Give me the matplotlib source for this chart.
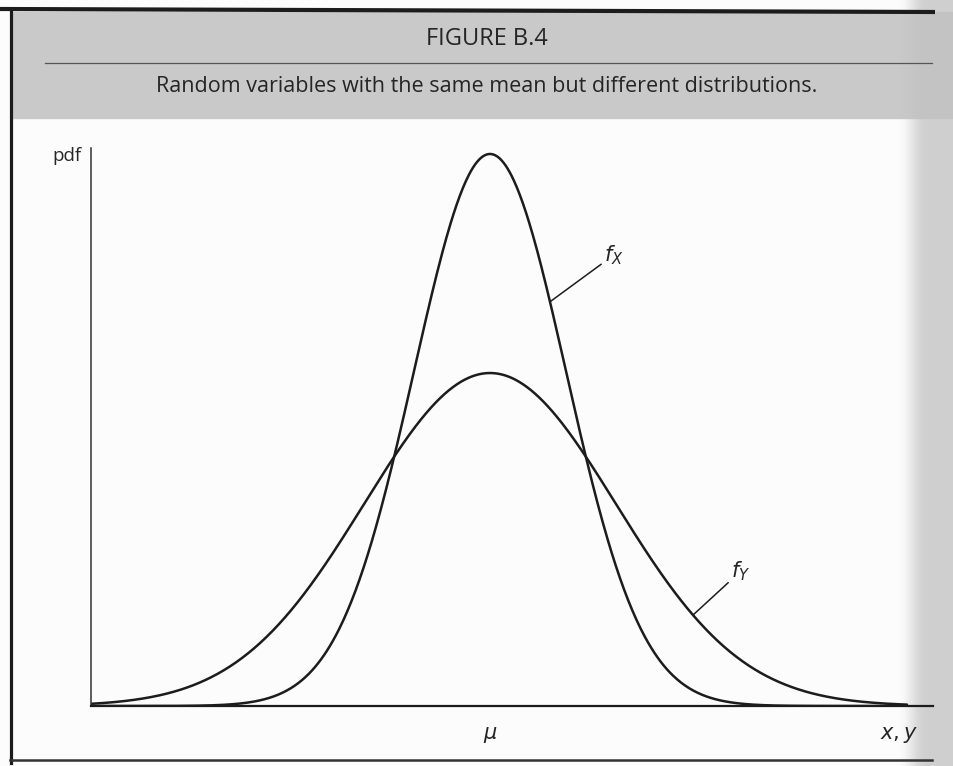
import numpy as np
import matplotlib.pyplot as plt
from matplotlib.patches import Rectangle

plt.rcParams["mathtext.fontset"] = "dejavusans"

# Two normal densities sharing the same mean
MU = 0.0
SIGMA_X = 0.76
SIGMA_Y = 1.26
X_LEFT, X_RIGHT = -3.99, 4.43
CURVE_END = 4.17
Y_TOP = 0.5306

# where the leader lines touch each curve
FX_LABEL_AT = 0.6
FY_LABEL_AT = 2.03

TITLE = "FIGURE B.4"
SUBTITLE = "Random variables with the same mean but different distributions."

INK = "#1c1c1c"
TEXT = "#252525"
W, H = 954, 766


def normal_pdf(x, mu, sigma):
    return np.exp(-0.5 * ((x - mu) / sigma) ** 2) / (sigma * np.sqrt(2 * np.pi))


fig = plt.figure(figsize=(W / 100, H / 100), dpi=100)
fig.patch.set_facecolor("#fcfcfc")

# page frame, grey header band and gutter shadow
bg = fig.add_axes([0, 0, 1, 1])
bg.set_xlim(0, W)
bg.set_ylim(H, 0)
bg.axis("off")

bg.add_patch(Rectangle((12, 12), 940, 106, color="#c9c9c9", zorder=1))

ramp = np.clip(np.linspace(0, 1, 200) / 0.5, 0, 1)
ramp = ramp * ramp * (3 - 2 * ramp)
shade = np.zeros((1, 200, 4))
shade[..., :3] = 0.76
shade[..., 3] = ramp * 0.75
bg.imshow(shade, extent=(898, W, H, 0), aspect="auto", zorder=2,
          interpolation="bilinear")

bg.plot([0, 935], [9, 12], color=INK, lw=3.0, zorder=3, solid_capstyle="butt")
bg.plot([11, 11], [9, 763], color=INK, lw=2.3, zorder=3)
bg.plot([10, 932], [760, 760], color="#333333", lw=1.8, zorder=3)
bg.plot([45, 932], [63, 63], color="#555555", lw=0.9, zorder=3)

bg.text(487, 39, TITLE, ha="center", va="center", fontsize=17,
        family="Open Sans", color=TEXT, zorder=4)
bg.text(487, 87, SUBTITLE, ha="center", va="center", fontsize=15.5,
        family="Open Sans", color=TEXT, zorder=4)

# the plot itself
ax = fig.add_axes([91 / W, 1 - 706 / H, (933 - 91) / W, (706 - 148) / H])
ax.patch.set_alpha(0)
ax.set_xlim(X_LEFT, X_RIGHT)
ax.set_ylim(0, Y_TOP)

x = np.linspace(X_LEFT, CURVE_END, 800)
fx = normal_pdf(x, MU, SIGMA_X)
fy = normal_pdf(x, MU, SIGMA_Y)
ax.plot(x, fx, color=INK, lw=1.8, solid_capstyle="round")
ax.plot(x, fy, color=INK, lw=1.8, solid_capstyle="round")

for side in ["top", "right"]:
    ax.spines[side].set_visible(False)
ax.spines["left"].set_linewidth(1.1)
ax.spines["left"].set_color("#333333")
ax.spines["bottom"].set_linewidth(1.6)
ax.spines["bottom"].set_color(INK)

ax.set_yticks([])
ax.set_xticks([MU], [r"$\mu$"])
ax.tick_params(axis="x", length=0, pad=14, labelsize=15, labelcolor=TEXT)

ax.text(-0.011, 0.985, "pdf", transform=ax.transAxes, ha="right", va="center",
        fontsize=13.5, family="Open Sans", color=TEXT)
ax.text(0.982, -0.052, r"$x, y$", transform=ax.transAxes, ha="right", va="center",
        fontsize=15, color=TEXT)

# leader lines with curve labels
ax.annotate(r"$f_X$", xy=(FX_LABEL_AT, normal_pdf(FX_LABEL_AT, MU, SIGMA_X)),
            xytext=(54, 35), textcoords="offset pixels", fontsize=15,
            ha="left", va="bottom", color=TEXT,
            arrowprops=dict(arrowstyle="-", color=INK, lw=1.1,
                            shrinkA=0, shrinkB=0))
ax.annotate(r"$f_Y$", xy=(FY_LABEL_AT, normal_pdf(FY_LABEL_AT, MU, SIGMA_Y)),
            xytext=(38, 32), textcoords="offset pixels", fontsize=15,
            ha="left", va="bottom", color=TEXT,
            arrowprops=dict(arrowstyle="-", color=INK, lw=1.1,
                            shrinkA=0, shrinkB=0))

fig.savefig("out.png", dpi=100, facecolor=fig.get_facecolor())
